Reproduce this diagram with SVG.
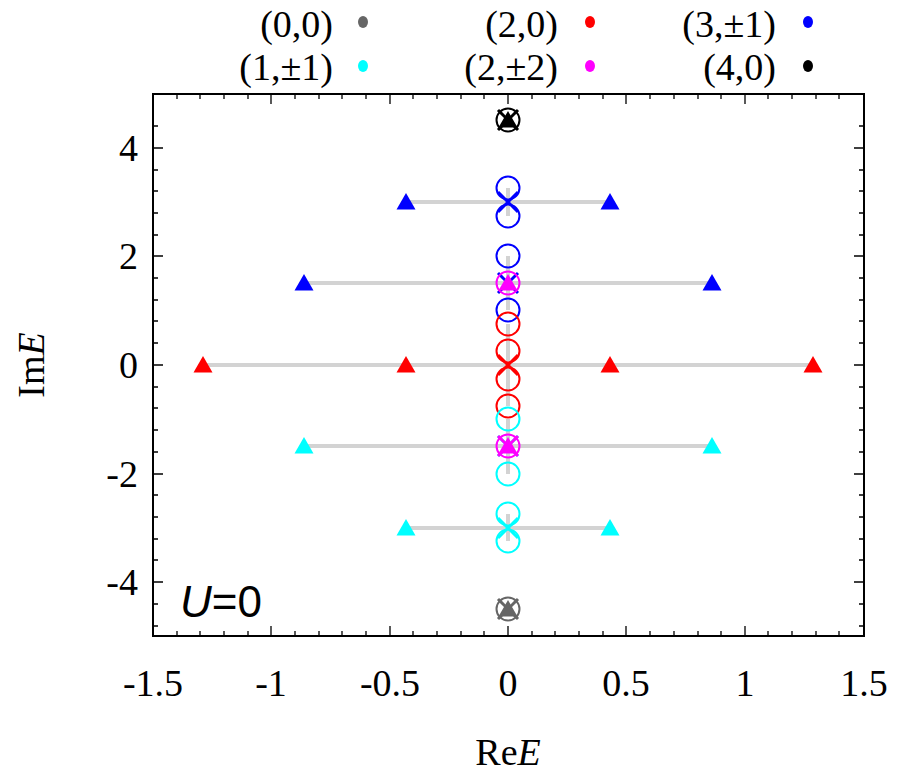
<svg xmlns="http://www.w3.org/2000/svg" width="900" height="777" viewBox="0 0 900 777">
<style>
text{font-family:"Liberation Serif",serif;font-size:38px;fill:#000}
.tk{stroke:#000;stroke-width:1.3}
.g{stroke:#d3d3d3;stroke-width:4;fill:none}
.c{fill:none;stroke-width:2}
.x{stroke-width:3}
</style>
<defs>
<circle id="ci" r="11.5"/>
<path id="tr" d="M0,-9 L9.5,7.5 L-9.5,7.5Z"/>
<path id="xx" d="M-10,-10L10,10M-10,10L10,-10"/>
</defs>
<rect width="900" height="777" fill="#fff"/>
<g id="connectors">
<line class="g" x1="406" y1="202" x2="610" y2="202"/>
<line class="g" x1="304" y1="283" x2="712" y2="283"/>
<line class="g" x1="203" y1="365" x2="813" y2="365"/>
<line class="g" x1="304" y1="446" x2="712" y2="446"/>
<line class="g" x1="406" y1="528" x2="610" y2="528"/>
<line class="g" x1="508" y1="188" x2="508" y2="216"/>
<line class="g" x1="508" y1="256" x2="508" y2="310"/>
<line class="g" x1="508" y1="324" x2="508" y2="406"/>
<line class="g" x1="508" y1="419" x2="508" y2="474"/>
<line class="g" x1="508" y1="514" x2="508" y2="541"/>
</g>
<g id="axes" fill="none">
<rect x="153" y="94" width="711" height="542" stroke="#000" stroke-width="2"/>
<path class="tk" d="M153,636v-10M271,636v-10M390,636v-10M508,636v-10M626,636v-10M745,636v-10M864,636v-10M153,94v10M271,94v10M390,94v10M508,94v10M626,94v10M745,94v10M864,94v10
M177,636v-5M200,636v-5M224,636v-5M248,636v-5M295,636v-5M319,636v-5M342,636v-5M366,636v-5M413,636v-5M437,636v-5M461,636v-5M484,636v-5M532,636v-5M555,636v-5M579,636v-5M603,636v-5M650,636v-5M674,636v-5M698,636v-5M721,636v-5M768,636v-5M792,636v-5M816,636v-5M839,636v-5
M177,94v5M200,94v5M224,94v5M248,94v5M295,94v5M319,94v5M342,94v5M366,94v5M413,94v5M437,94v5M461,94v5M484,94v5M532,94v5M555,94v5M579,94v5M603,94v5M650,94v5M674,94v5M698,94v5M721,94v5M768,94v5M792,94v5M816,94v5M839,94v5
M153,148h10M153,256h10M153,365h10M153,474h10M153,582h10M864,148h-10M864,256h-10M864,365h-10M864,474h-10M864,582h-10
M153,126h5M153,170h5M153,191h5M153,213h5M153,235h5M153,278h5M153,300h5M153,321h5M153,343h5M153,387h5M153,408h5M153,430h5M153,452h5M153,495h5M153,517h5M153,539h5M153,560h5M153,604h5M153,626h5
M864,126h-5M864,170h-5M864,191h-5M864,213h-5M864,235h-5M864,278h-5M864,300h-5M864,321h-5M864,343h-5M864,387h-5M864,408h-5M864,430h-5M864,452h-5M864,495h-5M864,517h-5M864,539h-5M864,560h-5M864,604h-5M864,626h-5"/>
</g>
<g id="ticklabels" text-anchor="end">
<text x="138" y="161">4</text>
<text x="138" y="269">2</text>
<text x="138" y="378">0</text>
<text x="138" y="487">-2</text>
<text x="138" y="595">-4</text>
</g>
<g id="xticklabels" text-anchor="middle">
<text x="153" y="696">-1.5</text>
<text x="271" y="696">-1</text>
<text x="390" y="696">-0.5</text>
<text x="508" y="696">0</text>
<text x="626" y="696">0.5</text>
<text x="745" y="696">1</text>
<text x="864" y="696">1.5</text>
</g>
<text x="508" y="765" text-anchor="middle">Re<tspan font-style="italic">E</tspan></text>
<text transform="translate(44,365) rotate(-90)" text-anchor="middle">Im<tspan font-style="italic">E</tspan></text>
<text x="180" y="617" style="font-family:'Liberation Sans',sans-serif;font-size:44px"><tspan font-style="italic">U</tspan>=0</text>
<g id="legend" text-anchor="end">
<text x="333" y="37">(0,0)</text><ellipse cx="363" cy="22" rx="5" ry="6" fill="#666"/>
<text x="558" y="37">(2,0)</text><ellipse cx="590" cy="22" rx="5" ry="6" fill="#f00"/>
<text x="776" y="37">(3,±1)</text><ellipse cx="808" cy="22" rx="5" ry="6" fill="#00f"/>
<text x="333" y="80">(1,±1)</text><ellipse cx="363" cy="66" rx="5" ry="6" fill="#0ff"/>
<text x="558" y="80">(2,±2)</text><ellipse cx="590" cy="66" rx="5" ry="6" fill="#f0f"/>
<text x="776" y="80">(4,0)</text><ellipse cx="808" cy="66" rx="5" ry="6" fill="#000"/>
</g>
<g id="s00" stroke="#666" fill="#666">
<use href="#ci" x="508" y="609" class="c"/><use href="#xx" x="508" y="609" class="x"/><use href="#tr" x="508" y="609" stroke="none"/>
</g>
<g id="s40" stroke="#000" fill="#000">
<use href="#ci" x="508" y="120" class="c"/><use href="#xx" x="508" y="120" class="x"/><use href="#tr" x="508" y="120" stroke="none"/>
</g>
<g id="s31" stroke="#00f" fill="#00f">
<use href="#tr" x="406" y="202" stroke="none"/><use href="#tr" x="610" y="202" stroke="none"/>
<use href="#tr" x="304" y="283" stroke="none"/><use href="#tr" x="712" y="283" stroke="none"/>
<use href="#ci" x="508" y="188" class="c"/><use href="#ci" x="508" y="216" class="c"/>
<use href="#ci" x="508" y="256" class="c"/><use href="#ci" x="508" y="310" class="c"/>
<use href="#xx" x="508" y="202" class="x"/><use href="#xx" x="508" y="283" class="x"/>
</g>
<g id="s20" stroke="#f00" fill="#f00">
<use href="#tr" x="203" y="365" stroke="none"/><use href="#tr" x="406" y="365" stroke="none"/>
<use href="#tr" x="610" y="365" stroke="none"/><use href="#tr" x="813" y="365" stroke="none"/>
<use href="#ci" x="508" y="324" class="c"/><use href="#ci" x="508" y="351" class="c"/>
<use href="#ci" x="508" y="379" class="c"/><use href="#ci" x="508" y="406" class="c"/>
<use href="#xx" x="508" y="365" class="x"/>
</g>
<g id="s11" stroke="#0ff" fill="#0ff">
<use href="#tr" x="304" y="446" stroke="none"/><use href="#tr" x="712" y="446" stroke="none"/>
<use href="#tr" x="406" y="528" stroke="none"/><use href="#tr" x="610" y="528" stroke="none"/>
<use href="#ci" x="508" y="419" class="c"/><use href="#ci" x="508" y="474" class="c"/>
<use href="#ci" x="508" y="514" class="c"/><use href="#ci" x="508" y="541" class="c"/>
<use href="#xx" x="508" y="446" class="x"/><use href="#xx" x="508" y="528" class="x"/>
</g>
<g id="s22" stroke="#f0f" fill="#f0f">
<use href="#ci" x="508" y="283" class="c"/><use href="#tr" x="508" y="283" stroke="none"/>
<use href="#ci" x="508" y="446" class="c"/><use href="#xx" x="508" y="446" class="x"/><use href="#tr" x="508" y="446" stroke="none"/>
</g>
</svg>
